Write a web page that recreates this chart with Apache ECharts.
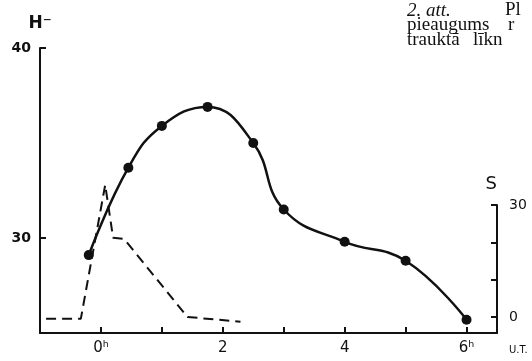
<!DOCTYPE html>
<html>
<head>
<meta charset="utf-8">
<script src="https://cdn.jsdelivr.net/npm/echarts@6/dist/echarts.min.js"></script>
<style>
html, body { margin: 0; padding: 0; background: #fff; }
#main { width: 532px; height: 361px; }
</style>
</head>
<body>
<div id="main"></div>
<script>
// H- curve (left axis)
const hoursH = [-0.2, 0.45, 1.0, 1.75, 2.5, 3.0, 4.0, 5.0, 6.0];
const valuesH = [29.1, 33.7, 35.9, 36.9, 35.0, 31.5, 29.8, 28.8, 25.7];

// S dashed curve (right axis)
const hoursS = [-0.9, -0.33, 0.07, 0.2, 0.38, 1.42, 2.29];
const valuesS = [-0.5, -0.5, 35.4, 21.2, 20.9, 0, -1.3];

const xTicks = [0, 1, 2, 3, 4, 5, 6];
const xLabelValues = [0, 2, 4, 6];
const xLabelText = { 0: "0ʰ", 2: "2", 4: "4", 6: "6ʰ" };
const hTicks = [30, 40];
const sTicks = [0, 10, 20, 30];

const ink = "#111";
const font = "DejaVu Sans";
const serif = "Liberation Serif";

var chart = echarts.init(document.getElementById("main"));

var option = {
	backgroundColor: "#fff",
	animation: false,
	grid: [
		{ left: 40, right: 35, top: 48, bottom: 28 },
		{ left: 40, right: 35, top: 205, bottom: 28 },
	],
	xAxis: [
		{
			type: "value",
			gridIndex: 0,
			min: -1,
			max: 6.5,
			name: "U.T.",
			nameLocation: "end",
			nameGap: 12,
			nameTextStyle: {
				color: ink,
				fontFamily: font,
				fontSize: 10,
				verticalAlign: "top",
				padding: [12, 0, 0, 0],
			},
			splitLine: { show: false },
			axisLine: { onZero: false, lineStyle: { color: ink, width: 2 } },
			axisTick: {
				inside: true,
				length: 6,
				customValues: xTicks,
				lineStyle: { color: ink, width: 2 },
			},
			axisLabel: {
				customValues: xLabelValues,
				formatter: (v) => xLabelText[v],
				color: ink,
				fontFamily: font,
				fontSize: 15,
				margin: 8,
			},
		},
		{
			type: "value",
			gridIndex: 1,
			min: -1,
			max: 6.5,
			show: false,
		},
	],
	yAxis: [
		{
			type: "value",
			gridIndex: 0,
			min: 25,
			max: 40,
			name: "H⁻",
			nameLocation: "end",
			nameGap: 16,
			nameTextStyle: {
				color: ink,
				fontFamily: font,
				fontSize: 17,
				fontWeight: "bold",
			},
			splitLine: { show: false },
			axisLine: { show: true, onZero: false, lineStyle: { color: ink, width: 2 } },
			axisTick: {
				show: true,
				inside: true,
				length: 6,
				customValues: hTicks,
				lineStyle: { color: ink, width: 2 },
			},
			axisLabel: {
				customValues: hTicks,
				color: ink,
				fontFamily: font,
				fontSize: 14,
				fontWeight: "bold",
				margin: 9,
			},
		},
		{
			type: "value",
			gridIndex: 1,
			position: "right",
			min: -4.3,
			max: 30,
			name: "S",
			nameLocation: "end",
			nameGap: 12,
			nameTextStyle: {
				color: ink,
				fontFamily: font,
				fontSize: 18,
				align: "right",
			},
			splitLine: { show: false },
			axisLine: { show: true, onZero: false, lineStyle: { color: ink, width: 2 } },
			axisTick: {
				show: true,
				inside: true,
				length: 6,
				customValues: sTicks,
				lineStyle: { color: ink, width: 2 },
			},
			axisLabel: {
				customValues: [0, 30],
				color: ink,
				fontFamily: font,
				fontSize: 14,
				margin: 12,
			},
		},
	],
	series: [
		{
			name: "S",
			type: "line",
			xAxisIndex: 1,
			yAxisIndex: 1,
			clip: false,
			data: hoursS.map((t, i) => [t, valuesS[i]]),
			showSymbol: false,
			lineStyle: { color: ink, width: 2, type: [10, 6] },
		},
		{
			name: "H-",
			type: "line",
			xAxisIndex: 0,
			yAxisIndex: 0,
			data: hoursH.map((t, i) => [t, valuesH[i]]),
			smooth: 0.45,
			symbol: "circle",
			symbolSize: 10,
			itemStyle: { color: ink },
			lineStyle: { color: ink, width: 2.5 },
		},
	],
	// caption fragment cut off at the top right of the scan
	graphic: [
		{ type: "text", left: 407, top: 1, style: { text: "2. att.", fontFamily: serif, fontStyle: "italic", fontSize: 19, fill: ink } },
		{ type: "text", left: 505, top: 1, style: { text: "Pl", fontFamily: serif, fontSize: 19, fill: ink } },
		{ type: "text", left: 407, top: 16, style: { text: "pieaugums", fontFamily: serif, fontSize: 19, fill: ink } },
		{ type: "text", left: 508, top: 16, style: { text: "r", fontFamily: serif, fontSize: 19, fill: ink } },
		{ type: "text", left: 407, top: 31, style: { text: "trauktā", fontFamily: serif, fontSize: 19, fill: ink } },
		{ type: "text", left: 473, top: 31, style: { text: "līkn", fontFamily: serif, fontSize: 19, fill: ink } },
	],
};

chart.setOption(option);
</script>
</body>
</html>
